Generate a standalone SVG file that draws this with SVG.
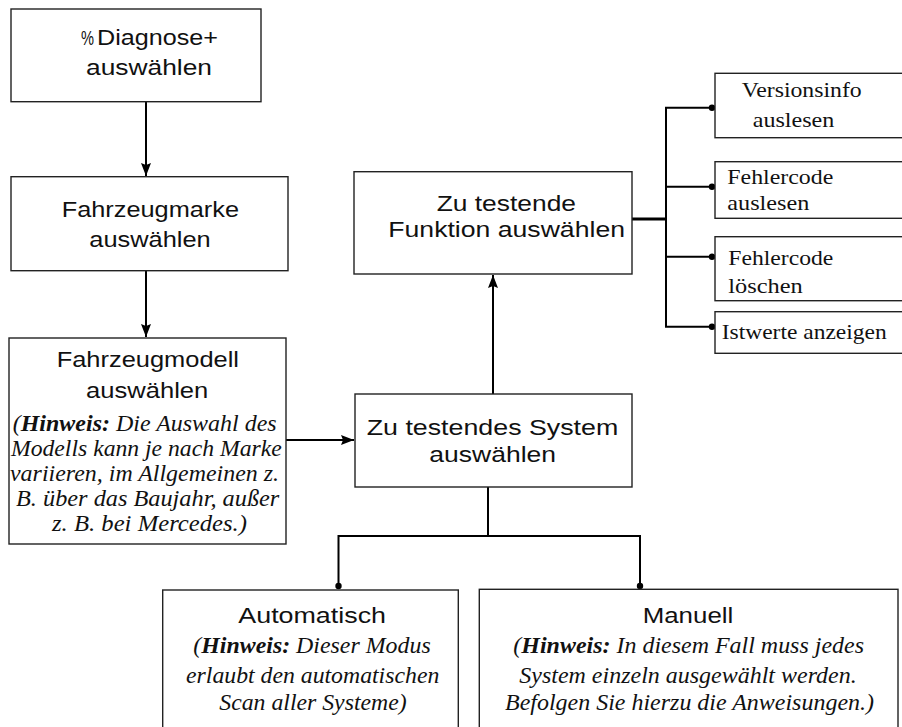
<svg xmlns="http://www.w3.org/2000/svg" width="902" height="727" viewBox="0 0 902 727">
<style>
.box{fill:#fff;stroke:#222;stroke-width:1.4}
.sans{font-family:"Liberation Sans",Arial,sans-serif;font-size:22.5px;fill:#111}
.ser{font-family:"Liberation Serif","Times New Roman",serif;font-size:22px;fill:#111}
.it{font-family:"Liberation Serif","Times New Roman",serif;font-size:22.5px;font-style:italic;fill:#111}
.b{font-weight:bold}
.ln{fill:none;stroke:#000;stroke-width:2}
.thick{fill:none;stroke:#000;stroke-width:3.2}
.dot{fill:#000}
</style>
<defs>
<marker id="arr" viewBox="0 0 13 10" refX="13" refY="5" markerWidth="13" markerHeight="10" markerUnits="userSpaceOnUse" orient="auto">
<path d="M0,0 L13,5 L0,10 L2,5 Z" fill="#000"/>
</marker>
</defs>

<g id="connectors">
<line class="ln" x1="146" y1="102" x2="146" y2="176" marker-end="url(#arr)"/>
<line class="ln" x1="146" y1="271" x2="146" y2="337" marker-end="url(#arr)"/>
<line class="ln" x1="286" y1="440" x2="354" y2="440" marker-end="url(#arr)"/>
<line class="ln" x1="493" y1="394" x2="493" y2="275" marker-end="url(#arr)"/>
<line class="thick" x1="632" y1="219" x2="666" y2="219"/>
<polyline class="ln" points="712,107.7 666,107.7 666,326.7 712,326.7"/>
<line class="ln" x1="666" y1="186.7" x2="712" y2="186.7"/>
<line class="ln" x1="666" y1="256.7" x2="712" y2="256.7"/>
<circle class="dot" cx="712" cy="107.7" r="3.2"/>
<circle class="dot" cx="712" cy="186.7" r="3.2"/>
<circle class="dot" cx="712" cy="256.7" r="3.2"/>
<circle class="dot" cx="712" cy="326.7" r="3.2"/>
<line class="ln" x1="488" y1="487" x2="488" y2="536"/>
<polyline class="ln" points="338.5,586 338.5,536 640,536 640,586"/>
<circle class="dot" cx="338.5" cy="586" r="3.2"/>
<circle class="dot" cx="640" cy="586" r="3.2"/>
</g>

<g id="node-diagnose">
<rect class="box" x="11" y="9" width="250" height="92.7"/>
<text class="sans"><tspan x="81" y="45" textLength="13" lengthAdjust="spacingAndGlyphs" font-size="20">%</tspan><tspan x="97" y="45" textLength="121" lengthAdjust="spacingAndGlyphs">Diagnose+</tspan></text>
<text class="sans" x="86" y="75" textLength="126" lengthAdjust="spacingAndGlyphs">auswählen</text>
</g>

<g id="node-marke">
<rect class="box" x="11" y="176.7" width="277" height="94"/>
<text class="sans" x="61.7" y="217.3" textLength="177.3" lengthAdjust="spacingAndGlyphs">Fahrzeugmarke</text>
<text class="sans" x="89.3" y="247.3" textLength="121.4" lengthAdjust="spacingAndGlyphs">auswählen</text>
</g>

<g id="node-modell">
<rect class="box" x="9" y="338" width="277" height="206"/>
<text class="sans" x="56.7" y="367.3" textLength="182.3" lengthAdjust="spacingAndGlyphs">Fahrzeugmodell</text>
<text class="sans" x="86" y="398.3" textLength="122.3" lengthAdjust="spacingAndGlyphs">auswählen</text>
<text class="it" x="12.7" y="431" textLength="264" lengthAdjust="spacingAndGlyphs">(<tspan class="b">Hinweis:</tspan> Die Auswahl des</text>
<text class="it" x="11" y="456" textLength="270.7" lengthAdjust="spacingAndGlyphs">Modells kann je nach Marke</text>
<text class="it" x="10" y="481" textLength="269" lengthAdjust="spacingAndGlyphs">variieren, im Allgemeinen z.</text>
<text class="it" x="16" y="506" textLength="263.3" lengthAdjust="spacingAndGlyphs">B. über das Baujahr, außer</text>
<text class="it" x="52" y="531" textLength="195" lengthAdjust="spacingAndGlyphs">z. B. bei Mercedes.)</text>
</g>

<g id="node-system">
<rect class="box" x="355" y="394" width="277" height="93"/>
<text class="sans" x="366.7" y="435" textLength="251.6" lengthAdjust="spacingAndGlyphs">Zu testendes System</text>
<text class="sans" x="429.3" y="461.7" textLength="126.7" lengthAdjust="spacingAndGlyphs">auswählen</text>
</g>

<g id="node-funktion">
<rect class="box" x="354" y="171.7" width="278" height="102.3"/>
<text class="sans" x="436.7" y="210.7" textLength="139.3" lengthAdjust="spacingAndGlyphs">Zu testende</text>
<text class="sans" x="388.3" y="237.3" textLength="236.7" lengthAdjust="spacingAndGlyphs">Funktion auswählen</text>
</g>

<g id="node-versionsinfo">
<rect class="box" x="715" y="73.3" width="200" height="64.4"/>
<text class="ser" x="741.7" y="96.7" textLength="120" lengthAdjust="spacingAndGlyphs">Versionsinfo</text>
<text class="ser" x="752.7" y="126.7" textLength="81.6" lengthAdjust="spacingAndGlyphs">auslesen</text>
</g>

<g id="node-fehler-auslesen">
<rect class="box" x="715" y="161.7" width="200" height="56.6"/>
<text class="ser" x="727.3" y="184" textLength="106" lengthAdjust="spacingAndGlyphs">Fehlercode</text>
<text class="ser" x="727.3" y="210" textLength="82" lengthAdjust="spacingAndGlyphs">auslesen</text>
</g>

<g id="node-fehler-loeschen">
<rect class="box" x="715" y="236.7" width="200" height="64"/>
<text class="ser" x="728.3" y="265" textLength="105" lengthAdjust="spacingAndGlyphs">Fehlercode</text>
<text class="ser" x="728.3" y="292.7" textLength="74.4" lengthAdjust="spacingAndGlyphs">löschen</text>
</g>

<g id="node-istwerte">
<rect class="box" x="715" y="311.7" width="200" height="41.6"/>
<text class="ser" x="721.7" y="339.3" textLength="165" lengthAdjust="spacingAndGlyphs">Istwerte anzeigen</text>
</g>

<g id="node-automatisch">
<rect class="box" x="162.7" y="590" width="295.6" height="150"/>
<text class="sans" x="238.3" y="622.7" textLength="147.7" lengthAdjust="spacingAndGlyphs">Automatisch</text>
<text class="it" x="193.3" y="653.3" textLength="237.4" lengthAdjust="spacingAndGlyphs">(<tspan class="b">Hinweis:</tspan> Dieser Modus</text>
<text class="it" x="186" y="682.7" textLength="253.3" lengthAdjust="spacingAndGlyphs">erlaubt den automatischen</text>
<text class="it" x="219.3" y="710" textLength="187.4" lengthAdjust="spacingAndGlyphs">Scan aller Systeme)</text>
</g>

<g id="node-manuell">
<rect class="box" x="479.3" y="589.3" width="418.7" height="150"/>
<text class="sans" x="642.7" y="622.7" textLength="90.6" lengthAdjust="spacingAndGlyphs">Manuell</text>
<text class="it" x="513.3" y="653.3" textLength="350.7" lengthAdjust="spacingAndGlyphs">(<tspan class="b">Hinweis:</tspan> In diesem Fall muss jedes</text>
<text class="it" x="519.3" y="682.7" textLength="337.4" lengthAdjust="spacingAndGlyphs">System einzeln ausgewählt werden.</text>
<text class="it" x="505" y="710" textLength="369" lengthAdjust="spacingAndGlyphs">Befolgen Sie hierzu die Anweisungen.)</text>
</g>
</svg>
